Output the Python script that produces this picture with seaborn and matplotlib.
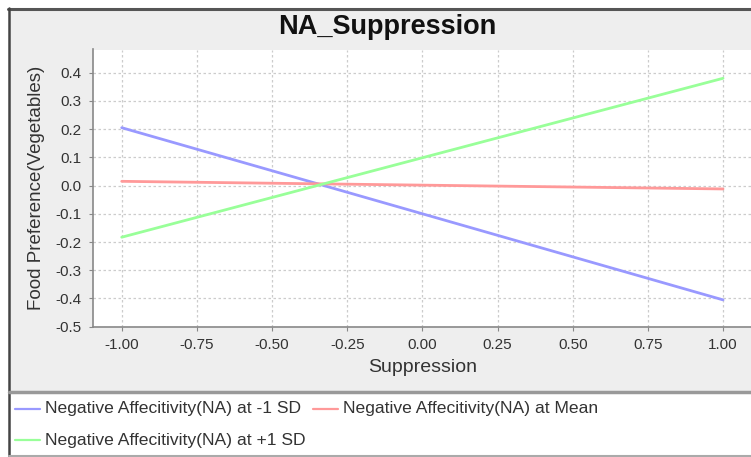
import matplotlib
matplotlib.use("Agg")
import matplotlib.pyplot as plt
import seaborn as sns
import pandas as pd
from matplotlib.patches import Rectangle
from matplotlib.lines import Line2D

# ---- data ----
suppression = [-1.0, 1.0]
na_minus1sd = [0.205, -0.405]
na_mean = [0.015, -0.012]
na_plus1sd = [-0.183, 0.38]
series_names = ["Negative Affecitivity(NA) at -1 SD",
                "Negative Affecitivity(NA) at Mean",
                "Negative Affecitivity(NA) at +1 SD"]
x_ticks = [-1.00, -0.75, -0.50, -0.25, 0.00, 0.25, 0.50, 0.75, 1.00]
y_ticks = [-0.5, -0.4, -0.3, -0.2, -0.1, 0.0, 0.1, 0.2, 0.3, 0.4]

colors = ["#9999FF", "#FF9999", "#99FF99"]

rows = []
for name, vals in zip(series_names, [na_minus1sd, na_mean, na_plus1sd]):
    for xv, yv in zip(suppression, vals):
        rows.append({"Suppression": xv, "value": yv, "series": name})
df = pd.DataFrame(rows)

sns.set_theme(style="white")
plt.rcParams['font.family'] = ['Liberation Sans', 'DejaVu Sans']

W, H = 751, 457
fig = plt.figure(figsize=(W / 100, H / 100), dpi=100, facecolor="white")

def fx(px):
    return px / W

def fy(py):
    return 1 - py / H

# background panels
fig.patches.append(Rectangle((fx(9), fy(392)), fx(751 - 9), (392 - 9) / H,
                             transform=fig.transFigure, facecolor="#EEEEEE",
                             edgecolor="none", zorder=-5))
fig.patches.append(Rectangle((fx(9), fy(455)), fx(751 - 9), (455 - 393) / H,
                             transform=fig.transFigure, facecolor="white",
                             edgecolor="none", zorder=-5))
# borders
fig.add_artist(Line2D([fx(8), fx(751)], [fy(8.5), fy(8.5)], transform=fig.transFigure,
                      color="#555555", lw=2.2, zorder=-4))
fig.add_artist(Line2D([fx(8.5), fx(8.5)], [fy(8), fy(456)], transform=fig.transFigure,
                      color="#444444", lw=1.8, zorder=-4))
fig.add_artist(Line2D([fx(9), fx(751)], [fy(392), fy(392)], transform=fig.transFigure,
                      color="#999999", lw=2.5, zorder=-4))
fig.add_artist(Line2D([fx(9), fx(751)], [fy(455.5), fy(455.5)], transform=fig.transFigure,
                      color="#AAAAAA", lw=1.5, zorder=-4))

ax_l, ax_t, ax_b = 93, 49.5, 326.7
ax = fig.add_axes([fx(ax_l), fy(ax_b), 1 - fx(ax_l) + 0.001, (ax_b - ax_t) / H])
ax.set_facecolor("white")

sns.lineplot(data=df, x="Suppression", y="value", hue="series",
             hue_order=series_names, palette=colors, linewidth=2.0,
             ax=ax, legend=False, zorder=3)

ax.set_xlim(-1.0955, 1.0955)
ax.set_ylim(-0.5, 0.482)
ax.set_xticks(x_ticks)
ax.set_xticklabels([f"{v:.2f}" for v in x_ticks])
ax.set_yticks(y_ticks)
ax.set_yticklabels([f"{v:.1f}" for v in y_ticks])
ax.grid(True, color="#CCCCCC", linestyle=(0, (2, 2)), linewidth=0.9)
ax.tick_params(axis="both", which="both", direction="out", length=3, width=0.8,
               color="#888888", labelsize=11, labelcolor="#333333", pad=5,
               bottom=True, left=True)
for side in ["top", "right"]:
    ax.spines[side].set_visible(False)
for side in ["left", "bottom"]:
    ax.spines[side].set_color("#888888")
    ax.spines[side].set_linewidth(1.2)

ax_w = W - ax_l
ax_h = ax_b - ax_t
ax.set_xlabel("Suppression", fontsize=14, color="#333333")
ax.xaxis.label.set_va("center")
ax.xaxis.set_label_coords((422.5 - ax_l) / ax_w, (ax_b - 368) / ax_h)
ax.set_ylabel("Food Preference(Vegetables)", fontsize=13.5, color="#333333")
ax.yaxis.label.set_va("center")
ax.yaxis.label.set_ha("center")
ax.yaxis.set_label_coords((37 - ax_l) / ax_w, (ax_b - 187.5) / ax_h)

fig.text(fx(387), fy(27), "NA_Suppression", ha="center", va="center",
         fontsize=19.5, fontweight="bold", color="#111111")

# legend (manual in the bottom band)
leg_items = [(15, 409, series_names[0], colors[0]),
             (313, 409, series_names[1], colors[1]),
             (15, 440, series_names[2], colors[2])]
for x0, y0, label, c in leg_items:
    fig.add_artist(Line2D([fx(x0), fx(x0 + 25)], [fy(y0), fy(y0)],
                          transform=fig.transFigure, color=c, lw=1.6))
    fig.text(fx(x0 + 30), fy(y0), label, ha="left", va="center",
             fontsize=12.6, color="#333333")

fig.savefig("out.png", dpi=100, facecolor="white")
